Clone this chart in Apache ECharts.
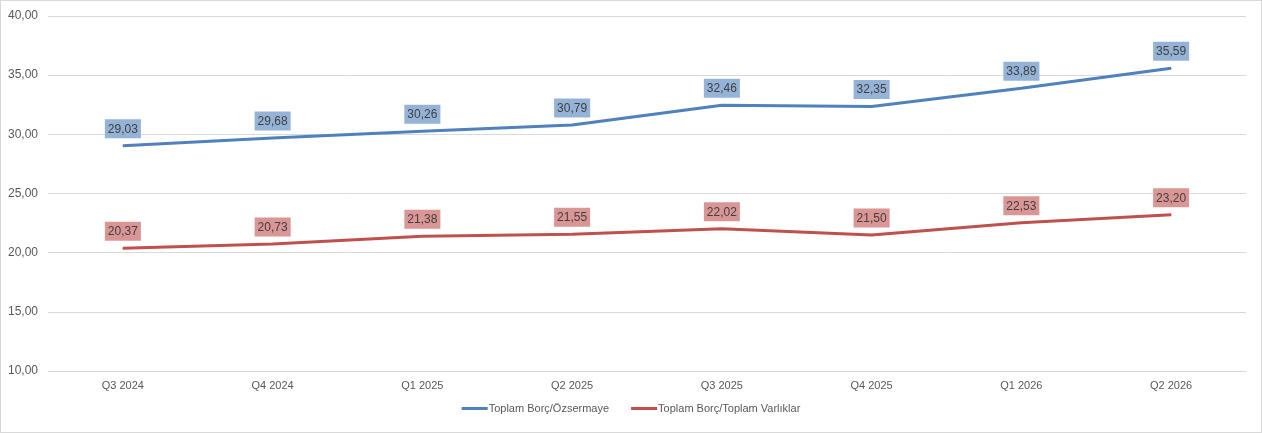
<!DOCTYPE html>
<html>
<head>
<meta charset="utf-8">
<script src="https://cdn.jsdelivr.net/npm/echarts@6/dist/echarts.min.js"></script>
<style>
html,body{margin:0;padding:0;background:#fff;}
#c{width:1262px;height:433px;box-sizing:border-box;border:1px solid #d9d9d9;}
</style>
</head>
<body>
<div id="c"></div>
<script>
const categories = ['Q3 2024','Q4 2024','Q1 2025','Q2 2025','Q3 2025','Q4 2025','Q1 2026','Q2 2026'];
const borcOzsermaye = [29.03, 29.68, 30.26, 30.79, 32.46, 32.35, 33.89, 35.59];
const borcVarliklar = [20.37, 20.73, 21.38, 21.55, 22.02, 21.50, 22.53, 23.20];
const seriesNames = ['Toplam Borç/Özsermaye', 'Toplam Borç/Toplam Varlıklar'];

const fmt = v => v.toFixed(2).replace('.', ',');
const font = '"Liberation Sans", Arial, sans-serif';

function mkSeries(name, data, color, labelBg) {
  return {
    name: name,
    type: 'line',
    data: data,
    symbol: 'circle',
    symbolSize: 1,
    showSymbol: true,
    lineStyle: { color: color, width: 3 },
    itemStyle: { color: color },
    label: {
      show: true,
      position: 'top',
      distance: 7,
      formatter: p => fmt(p.value),
      backgroundColor: labelBg,
      color: '#404040',
      fontSize: 12,
      fontFamily: font,
      padding: [4, 3, 3, 3]
    }
  };
}

const chart = echarts.init(document.getElementById('c'));
chart.setOption({
  animation: false,
  grid: { left: 47, right: 15, top: 15, bottom: 61 },
  legend: {
    bottom: 13,
    left: 'center',
    itemWidth: 26,
    itemHeight: 3,
    itemGap: 22,
    icon: 'rect',
    textStyle: { color: '#595959', fontSize: 11, fontFamily: font, padding: [0,0,0,-4] },
    data: seriesNames
  },
  xAxis: {
    type: 'category',
    data: categories,
    boundaryGap: true,
    axisLine: { show: true, lineStyle: { color: '#d9d9d9', width: 1 } },
    axisTick: { show: false },
    axisLabel: { color: '#595959', fontSize: 11, fontFamily: font, margin: 9 }
  },
  yAxis: {
    type: 'value',
    min: 10,
    max: 40,
    interval: 5,
    axisLine: { show: false },
    axisTick: { show: false },
    axisLabel: { color: '#595959', fontSize: 12, fontFamily: font, margin: 10, formatter: v => fmt(v) },
    splitLine: { lineStyle: { color: '#d9d9d9', width: 1 } }
  },
  series: [
    mkSeries(seriesNames[0], borcOzsermaye, '#4F81BD', '#95B3D7'),
    mkSeries(seriesNames[1], borcVarliklar, '#C0504D', '#DA9694')
  ]
});
</script>
</body>
</html>
